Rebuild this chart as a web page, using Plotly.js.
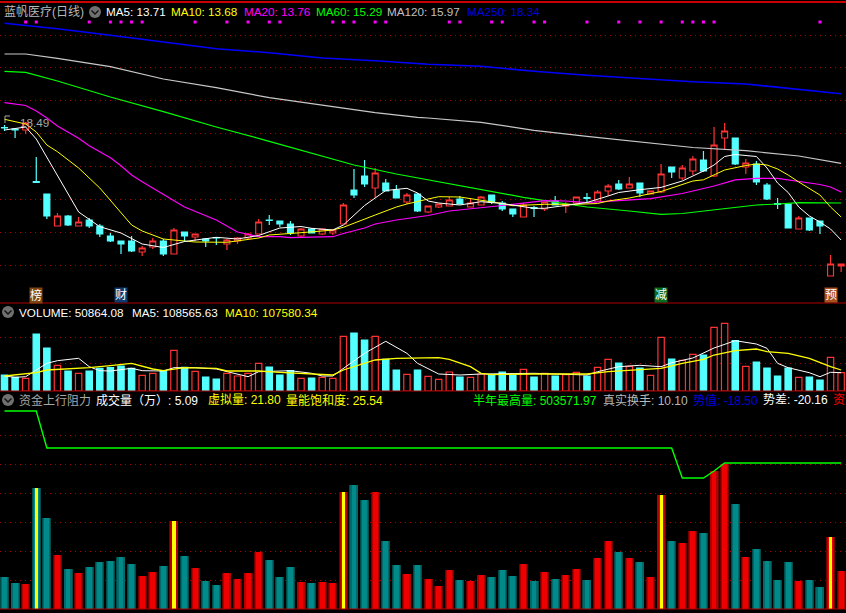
<!DOCTYPE html>
<html><head><meta charset="utf-8">
<script src="https://cdn.plot.ly/plotly-3.0.1.min.js"></script>
<style>html,body{margin:0;padding:0;background:#000;overflow:hidden}#c{width:846px;height:613px}</style>
</head><body><div id="c"></div>
<script>
const high=[17.8,17.4,18.1,14.6,10.9,9.0,8.8,8.6,8.5,7.9,7.0,6.2,6.7,5.7,6.5,6.4,7.5,7.1,6.9,6.5,6.6,6.4,6.6,7.0,8.4,8.8,8.2,8.2,7.5,7.5,7.4,7.3,10.0,13.4,14.3,13.5,12.4,11.8,11.0,11.0,9.7,9.9,10.6,10.7,10.5,10.7,10.8,10.2,9.4,10.0,9.7,10.1,10.7,10.1,10.6,11.0,11.3,11.9,12.3,12.6,12.0,11.2,13.9,13.6,13.8,14.7,15.2,17.6,18.0,16.5,14.4,14.2,12.0,10.5,9.9,8.7,8.5,8.2,4.8,3.9];
const low=[17.2,16.5,16.9,12.0,8.4,7.7,7.7,7.7,7.5,6.6,6.1,4.9,5.1,4.7,5.4,4.7,4.9,6.1,6.2,5.6,5.8,5.3,5.9,6.4,6.9,7.8,7.6,6.8,6.6,7.0,6.8,6.8,7.9,10.5,11.6,10.5,11.2,10.5,9.9,9.1,9.0,9.5,9.7,9.9,9.6,9.8,9.9,9.2,8.6,8.6,8.6,9.2,9.8,9.0,9.9,10.1,10.2,10.7,11.3,11.5,10.6,10.9,11.0,12.5,12.3,12.8,13.1,12.6,15.4,13.8,12.9,11.8,10.3,9.4,7.5,7.4,7.2,6.9,2.7,3.1];
const open=[17.55,17.4,17.3,12.15,10.9,7.7,8.7,7.7,8.3,7.7,6.7,6.2,6.2,5.1,5.6,6.2,4.9,7.1,6.6,6.4,6.55,5.9,6.2,6.5,6.9,8.3,8.2,7.9,6.7,7.4,6.9,7.0,7.9,11.3,12.7,11.5,12.0,11.3,10.1,10.9,9.1,9.6,9.7,10.4,9.6,9.8,10.8,10.0,9.4,8.6,9.55,9.4,10.2,9.7,10.0,10.55,10.2,11.2,11.9,11.5,12.0,10.9,11.1,13.6,12.5,13.2,14.3,12.7,16.5,16.5,13.6,13.9,11.8,9.95,9.9,7.4,8.5,8.2,2.7,3.7];
const close=[17.5,17.3,18.0,12.05,8.7,8.7,7.8,8.1,7.7,6.9,6.2,5.9,5.2,5.5,6.2,4.9,7.3,6.7,6.9,6.2,6.5,6.3,6.5,6.9,8.1,8.25,7.9,7.0,7.4,7.0,7.4,7.3,9.8,10.8,11.9,13.0,11.2,10.5,10.8,9.2,9.7,9.9,10.3,9.9,10.0,10.6,10.1,9.4,8.9,9.8,9.45,10.1,9.8,9.85,10.6,10.45,11.1,11.7,11.4,11.9,11.0,11.2,12.9,13.1,13.5,14.4,13.2,15.8,17.2,13.9,14.0,12.1,10.4,9.85,7.5,8.5,7.3,7.7,3.9,3.9];
const volume=[16,13.7,12.7,57,43,25.7,20,17.7,20,22.7,23.3,25,22.7,15.7,17.7,20.3,40.7,23.7,19.7,14,12,17.7,15,17.7,27.7,24,16,20.3,12.7,13,13.7,12.7,54.7,58,51,54.7,31.7,21,16.7,21,14.7,11.7,19,14,13.7,17,15.7,19,15.7,21.7,14,17.7,15,16.3,18.7,15,23.7,31.7,28,24.7,23,15.7,53.7,32,30.7,36.7,36,63.7,67.7,50.3,24.7,29,23,15,23,13.7,14,11,33.7,18.3];
const turnover=[32.3,26.3,25.3,121.3,91.3,54.3,40.3,36.3,42.3,47.3,48.3,52.3,45.3,33.3,37.3,43.3,88.3,53.3,41.3,28.3,24.3,36.3,30.3,36.3,57.3,49.3,32.3,42.3,27.3,26.3,27.3,26.3,117.3,124.3,109.3,117.3,68.3,44.3,35.3,44.3,30.3,23.3,39.3,29.3,28.3,34.3,32.3,39.3,33.3,45.3,28.3,37.3,30.3,34.3,40.3,29.3,51.3,68.3,57.3,51.3,47.3,32.3,114.3,68.3,66.3,78.3,76.3,138.3,145.3,105.3,52.3,60.3,48.3,29.3,47.3,28.3,29.3,22.3,72.3,38.3];
const highlightDays=[3,16,32,62,78];
const signalDays=[2,3,8,10,11,12,13,18,21,23,25,26,31,32,33,35,36,42,43,46,47,50,51,55,58,60,62,64,65,66,67,77];
const signalLevel=28.1;

const ma5Days=[0,2,3,4,5,7,9,11,13,15,17,19,20,22,24,26,28,29,31,32,33,34,35,36,38,39,40,41,43,45,47,48,50,51,52,54,55,57,58,60,62,64,66,67,68,69,71,72,73,74,75,76,77,78,79];
const ma5=[17.3,17.6,16.4,14.6,12.7,9.1,7.63,7.0,5.9,5.55,6.15,6.4,6.57,6.4,6.75,7.5,7.65,7.47,7.3,7.8,8.8,9.75,10.5,11.25,11.47,11.0,10.2,10.0,9.8,10.13,9.95,9.8,9.47,9.47,9.6,9.88,10.05,10.7,11.05,11.33,11.56,12.2,13.2,13.8,14.65,14.85,14.65,13.5,12.0,11.05,9.6,8.7,8.1,7.4,6.3];
const ma10Days=[0,1,2,3,4,5,7,9,11,12,13,15,17,18,21,24,25,27,28,30,31,32,34,35,37,38,40,41,43,45,47,48,51,54,56,57,59,62,64,65,66,67,68,70,71,72,73,74,75,77,78,79];
const ma10=[18.37,18.1,17.9,17.1,15.8,15.13,13.5,11.5,9.1,7.8,7.2,6.4,6.2,6.1,6.07,6.5,6.8,7.0,7.03,7.2,7.3,7.57,8.35,8.8,9.6,9.9,10.4,10.63,10.6,10.3,9.95,9.73,9.87,9.87,9.95,10.2,10.5,11.15,11.8,12.2,12.32,12.8,13.3,13.75,13.9,13.8,13.4,12.8,12.1,10.8,9.6,8.6];
const ma20Days=[0,2,3,4,5,7,8,9,10,11,12,13,15,17,20,22,24,26,27,31,32,34,35,37,39,40,42,44,45,47,48,51,53,55,58,61,64,65,67,69,71,73,75,77,78,79];
const ma20=[20.03,19.75,19.2,18.5,17.7,16.47,15.73,15.13,14.53,13.73,12.8,12.13,10.9,9.6,8.3,7.1,6.63,6.63,6.53,6.63,6.95,7.5,7.9,8.3,8.6,8.75,9.2,9.45,9.53,9.75,9.87,10.23,10.2,10.03,10.23,10.43,10.95,11.2,11.7,12.32,12.47,12.47,12.15,11.85,11.6,11.1];
const ma60Days=[0,2,5,10,15,20,25,26,33,37,41,45,49,51,54,55,59,62,64,65,67,69,71,73,75,79];
const ma60=[23.17,23.07,22.2,20.6,19.13,17.6,16.17,15.87,13.8,12.9,12.1,11.37,10.57,10.23,9.8,9.6,9.2,8.87,8.95,9.07,9.35,9.6,9.8,9.9,10.03,10.0];
const ma120Days=[0,2,5,10,15,20,25,30,35,39,40,45,50,55,60,65,70,75,79];
const ma120=[24.9,24.9,24.47,23.63,22.4,21.53,20.53,19.77,19.03,18.57,18.5,18.07,17.27,16.67,16.1,15.55,15.23,14.7,13.97];
const ma250Days=[0,5,10,15,20,25,30,35,40,45,50,55,60,65,70,75,79];
const ma250=[27.97,27.43,26.77,26.13,25.43,25.03,24.5,24.23,23.87,23.67,23.17,22.77,22.43,22.13,21.9,21.37,20.93];

const volMa5Days=[0,1,2,3,4,5,7,8,9,10,12,13,15,16,18,20,22,23,24,26,27,29,30,31,32,34,36,38,39,41,43,45,50,55,56,58,60,62,63,65,67,69,71,72,73,74,76,77,78,79];
const volMa5=[15,13.7,14.3,21,27.7,30.3,32.7,24.3,20.3,20,22.7,20.3,20,23.3,23.3,22,17,14.3,19.3,20,20.3,17.7,15,15,22.7,37.7,49.7,37.7,27.7,17,16,17,17.7,16,19.3,24.3,25.7,24.3,28.3,33,43,50.3,47,42.7,27.7,23.3,18.3,14.3,18.7,18.3];
const volMa10Days=[0,3,4,8,10,12,14,15,17,20,21,24,26,28,31,32,35,37,39,40,41,42,44,45,46,50,55,57,60,62,64,66,67,69,71,72,74,76,78,79];
const volMa10=[15,18.3,21,23.3,25.3,27.7,22,20.3,23.3,22.7,20,20,18.7,17.7,16,21,31,32.7,33.3,33.3,33.3,31.7,24.3,17.7,16.3,17,17,19.3,21,22.7,27.7,31.7,36,40.3,42,39.3,37.7,32.7,24.3,21];
const resistDays=[0,3,4,62,63,64,66,67,68,79];
const resistance=[198,198,161,161,161,131,131,138,146,146];

const markers=[["榜",3,"#7f4510"],["财",11,"#10396e"],["减",62,"#0b6b1f"],["预",78,"#a8501e"]];
const priceGrid=[26.8,23.6,20.3,17,13.7,10.4,7.1,3.8];
const volumeGrid=[54,28];
const turnoverGrid=[174,145,116,87,58,29];
const headers=[
 ["蓝帆医疗(日线)",3,12,"#b8b8b8"],["MA5: 13.71",104.5,12,"#ffffff"],["MA10: 13.68",170,12,"#ffff00"],["MA20: 13.76",243,12,"#ff00ff"],["MA60: 15.29",315,12,"#00ff00"],["MA120: 15.97",386,12,"#c0c0c0"],["MA250: 18.34",466,12,"#0000e0"],
 ["18.49",19,122,"#a8a8a8"],
 ["VOLUME: 50864.08",17.5,312,"#ffffff"],["MA5: 108565.63",130.5,312,"#ffffff"],["MA10: 107580.34",223.5,312,"#ffff00"],
 ["资金上行阻力",18,400,"#a8a8a8"],["成交量（万）: 5.09",95,400,"#ffffff"],["虚拟量: 21.80",207,400,"#ffff00"],["量能饱和度: 25.54",285,400,"#ffff00"],
 ["半年最高量: 503571.97",472,400,"#00ff00"],["真实换手: 10.10",602,400,"#b8b8b8"],["势值: -18.50",692,400,"#0000e0"],["势差: -20.16",762,400,"#ffffff"],["资",832,400,"#ff0000"]
];
const iconRows=[[95,12],[8,312],[8,400]];

const days=high.map((_,i)=>i);
const FONT='"Liberation Sans","Noto Sans CJK SC",sans-serif';
const px=x=>x/846, py=y=>1-y/613;
const isUp=days.map(i=>close[i]>=open[i]);
const line=(x,y,color,yaxis,w)=>({type:'scatter',mode:'lines',x,y,yaxis,line:{color,width:w||1},hoverinfo:'skip'});
const bar=(y,colors,width)=>({type:'bar',x:days,y,yaxis:'y3',width,marker:{color:colors,line:{width:0}},hoverinfo:'skip'});
const shade=(up,down)=>days.map(i=>isUp[i]?up:down);

const traces=[
 {type:'candlestick',x:days,open,high,low,close,yaxis:'y',whiskerwidth:0,hoverinfo:'skip',
  increasing:{line:{color:'#ff3333',width:1.2},fillcolor:'#000000'},
  decreasing:{line:{color:'#54ffff',width:1.2},fillcolor:'#54ffff'}},
 {type:'scatter',mode:'markers',x:signalDays,y:signalDays.map(()=>signalLevel),yaxis:'y',marker:{symbol:'square',size:3,color:'#ff00ff'},hoverinfo:'skip'},
 line(ma250Days,ma250,'#0000ff','y',1.6),
 line(ma120Days,ma120,'#c8c8c8','y',1.2),
 line(ma60Days,ma60,'#00ff00','y',1.2),
 line(ma20Days,ma20,'#ff00ff','y',1.2),
 line(ma10Days,ma10,'#ffff00','y'),
 line(ma5Days,ma5,'#ffffff','y'),
 {type:'bar',x:days,y:volume,yaxis:'y2',width:0.6,hoverinfo:'skip',
  marker:{color:shade('#000000','#54ffff'),line:{color:shade('#ff3333','#54ffff'),width:1.2}}},
 line(volMa5Days,volMa5,'#ffffff','y2'),
 line(volMa10Days,volMa10,'#ffff00','y2',1.3),
 bar(turnover,shade('#6e0000','#004a4a'),0.85),
 bar(turnover,shade('#b00000','#006a6a'),0.68),
 bar(turnover,shade('#ee0000','#008a8a'),0.46),
 {type:'bar',x:highlightDays,y:highlightDays.map(i=>turnover[i]),yaxis:'y3',width:0.3,marker:{color:'#ffff00',line:{width:0}},hoverinfo:'skip'},
 line(resistDays,resistance,'#00ff00','y3',1.4)
];

const hline=y=>({type:'line',xref:'paper',yref:'paper',x0:0,x1:1,y0:py(y),y1:py(y),line:{color:'#b00000',width:1}});
const shapes=[
 {type:'line',xref:'paper',yref:'paper',x0:0,x1:1,y0:py(2),y1:py(2),line:{color:'#cc0000',width:2}},
 hline(303),hline(391),hline(609),
 {type:'line',xref:'paper',yref:'paper',x0:px(5),x1:px(5),y0:py(116),y1:py(123),line:{color:'#a8a8a8',width:1}},
 {type:'line',xref:'paper',yref:'paper',x0:px(5),x1:px(10),y0:py(116),y1:py(116),line:{color:'#a8a8a8',width:1}}
];
iconRows.forEach(([x,y])=>{
 shapes.push({type:'circle',xref:'paper',yref:'paper',x0:px(x-6),x1:px(x+6),y0:py(y+6),y1:py(y-6),fillcolor:'#707070',line:{width:0}});
 shapes.push({type:'path',xref:'paper',yref:'paper',path:`M ${px(x-3.5)} ${py(y-1.5)} L ${px(x)} ${py(y+2)} L ${px(x+3.5)} ${py(y-1.5)}`,line:{color:'#111111',width:1.4}});
});
const annotations=headers.map(([text,x,y,color])=>({text,x:px(x),y:py(y),xref:'paper',yref:'paper',xanchor:'left',yanchor:'middle',showarrow:false,borderpad:0,font:{family:FONT,size:/^[\x00-\x7f]+$/.test(text)?11.7:12,color}}));
markers.forEach(([text,i,bg])=>annotations.push({text,x:i,y:0.8,xref:'x',yref:'y',xanchor:'center',yanchor:'middle',showarrow:false,bgcolor:bg,borderpad:0,font:{family:FONT,size:12,color:'#ffffff'}}));

const yBase=(domain,range,tickvals)=>({domain,range,tickvals,tickmode:'array',showticklabels:false,ticks:'',showline:false,zeroline:false,showgrid:true,gridcolor:'#a80000',gridwidth:1,griddash:'1px,4px',fixedrange:true});
const layout={
 width:846,height:613,margin:{l:0,r:0,t:0,b:0,pad:0},paper_bgcolor:'#000000',plot_bgcolor:'#000000',showlegend:false,barmode:'overlay',bargap:0,boxgap:0.2,
 font:{family:FONT,color:'#ffffff'},
 xaxis:{domain:[0,1],range:[-0.425,79.46],visible:false,fixedrange:true,rangeslider:{visible:false}},
 yaxis:yBase([py(303),py(3)],[0,30],priceGrid),
 yaxis2:yBase([py(391),py(303)],[0,88],volumeGrid),
 yaxis3:yBase([py(609),py(393)],[0,216],turnoverGrid),
 shapes,annotations
};
Plotly.newPlot('c',traces,layout,{staticPlot:true,displayModeBar:false});
</script></body></html>
